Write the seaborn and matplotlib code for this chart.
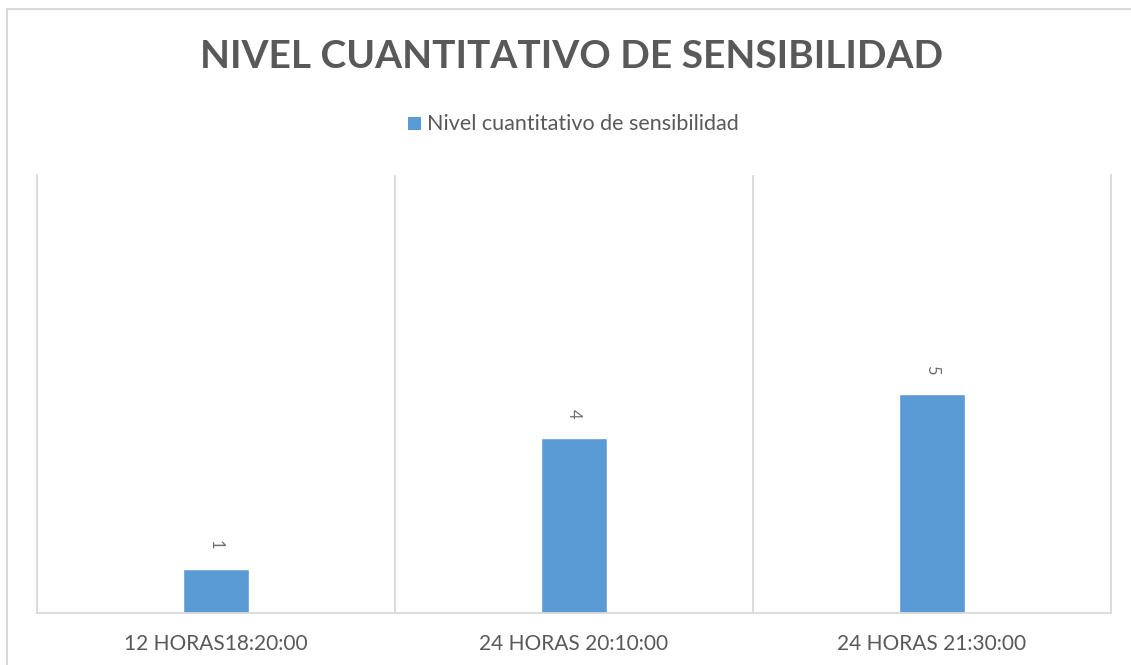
import matplotlib
matplotlib.use("Agg")
import matplotlib.pyplot as plt
import seaborn as sns
import pandas as pd
from matplotlib.lines import Line2D
from matplotlib.patches import Rectangle

# ------------------------------------------------------------------
# Data
# ------------------------------------------------------------------
categories = ["12 HORAS18:20:00", "24 HORAS 20:10:00", "24 HORAS 21:30:00"]
values = [1, 4, 5]
series_name = "Nivel cuantitativo de sensibilidad"
title = "NIVEL CUANTITATIVO DE SENSIBILIDAD"

df = pd.DataFrame({"momento": categories, "nivel": values})

bar_color = "#5b9bd5"
text_color = "#595959"
grid_color = "#d9d9d9"

sns.set_style("white")
plt.rcParams["font.family"] = ["Lato", "DejaVu Sans"]

# ------------------------------------------------------------------
# Figure
# ------------------------------------------------------------------
fig = plt.figure(figsize=(11.31, 6.65), dpi=100)
ax = fig.add_axes([37 / 1131, 1 - 613 / 665, (1111 - 37) / 1131, (613 - 175) / 665])

sns.barplot(data=df, x="momento", y="nivel", color=bar_color, width=0.185,
            saturation=1, ax=ax)

ax.set_xlim(-0.5, len(categories) - 0.5)
ax.set_ylim(0, 10)
ax.set_xlabel("")
ax.set_ylabel("")
ax.set_yticks([])
ax.tick_params(axis="x", length=0, pad=15, labelsize=15, labelcolor=text_color)

# category separators
for i in range(len(categories) - 1):
    ax.axvline(i + 0.5, color=grid_color, linewidth=1.3, zorder=0)

sns.despine(ax=ax, top=True, left=False, right=False, bottom=False)
for side in ["left", "right", "bottom"]:
    ax.spines[side].set_color(grid_color)
    ax.spines[side].set_linewidth(1.3)

# rotated data labels
for i, v in enumerate(values):
    ax.annotate(str(v), (i, v), xytext=(0, 14), textcoords="offset points",
                ha="center", va="bottom", rotation=-90, fontsize=12,
                color="#6f6f6f")

# title and legend
fig.text(572 / 1131, 1 - 56 / 665, title, ha="center", va="center",
         fontsize=28, fontweight="bold", color=text_color)

fig.patches.append(Rectangle((408 / 1131, 1 - 130 / 665), 13 / 1131, 13 / 665,
                             transform=fig.transFigure, facecolor=bar_color,
                             edgecolor="none"))
fig.text(427 / 1131, 1 - 124 / 665, series_name, ha="left", va="center",
         fontsize=15.5, color=text_color)

# outer chart border
fig.lines.append(Line2D([7 / 1131, 7 / 1131, 1], [0, 1 - 9 / 665, 1 - 9 / 665],
                        transform=fig.transFigure, color=grid_color, linewidth=1.5))

fig.savefig("out.png", dpi=100)
plt.close()
